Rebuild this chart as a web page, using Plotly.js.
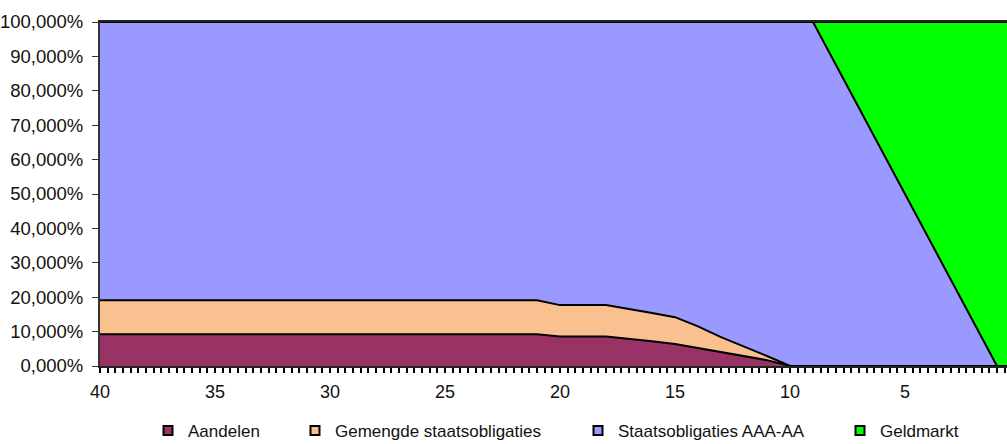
<!DOCTYPE html>
<html>
<head>
<meta charset="utf-8">
<script src="https://cdn.plot.ly/plotly-3.0.1.min.js"></script>
<style>
  html, body { margin: 0; padding: 0; background: #fff; }
  #grafiek { width: 1007px; height: 444px; }
</style>
</head>
<body>
<div id="grafiek"></div>
<script>
// Looptijd in jaren (x-as, aflopend)
const jaren = [40, 39, 38, 37, 36, 35, 34, 33, 32, 31, 30, 29, 28, 27, 26, 25, 24, 23, 22, 21,
               20, 19, 18, 17, 16, 15, 14, 13, 12, 11, 10, 9, 8, 7, 6, 5, 4, 3, 2, 1, 0.5];

// Verdeling per beleggingscategorie (%)
const aandelen = [9.2, 9.2, 9.2, 9.2, 9.2, 9.2, 9.2, 9.2, 9.2, 9.2, 9.2, 9.2, 9.2, 9.2, 9.2, 9.2, 9.2, 9.2, 9.2, 9.2,
                  8.6, 8.6, 8.6, 8.0, 7.2, 6.4, 5.1, 3.9, 2.9, 1.7, 0, 0, 0, 0, 0, 0, 0, 0, 0, 0, 0];
const gemengd = [9.9, 9.9, 9.9, 9.9, 9.9, 9.9, 9.9, 9.9, 9.9, 9.9, 9.9, 9.9, 9.9, 9.9, 9.9, 9.9, 9.9, 9.9, 9.9, 9.9,
                 9.1, 9.1, 9.1, 8.5, 8.2, 7.8, 6.4, 4.5, 2.8, 1.2, 0, 0, 0, 0, 0, 0, 0, 0, 0, 0, 0];
const staats = [80.9, 80.9, 80.9, 80.9, 80.9, 80.9, 80.9, 80.9, 80.9, 80.9, 80.9, 80.9, 80.9, 80.9, 80.9, 80.9, 80.9, 80.9, 80.9, 80.9,
                82.3, 82.3, 82.3, 83.5, 84.6, 85.8, 88.5, 91.6, 94.3, 97.1, 100, 100, 87.5, 75, 62.5, 50, 37.5, 25, 12.5, 0, 0];
const geldmarkt = [0, 0, 0, 0, 0, 0, 0, 0, 0, 0, 0, 0, 0, 0, 0, 0, 0, 0, 0, 0,
                   0, 0, 0, 0, 0, 0, 0, 0, 0, 0, 0, 0, 12.5, 25, 37.5, 50, 62.5, 75, 87.5, 100, 100];

// As-labels
const xLabels = [40, 35, 30, 25, 20, 15, 10, 5];
const yWaarden = [0, 10, 20, 30, 40, 50, 60, 70, 80, 90, 100];
const yLabels = ['0,000%', '10,000%', '20,000%', '30,000%', '40,000%', '50,000%',
                 '60,000%', '70,000%', '80,000%', '90,000%', '100,000%'];

const namen = ['Aandelen', 'Gemengde staatsobligaties', 'Staatsobligaties AAA-AA', 'Geldmarkt'];
const kleuren = ['#993366', '#FAC090', '#9999FF', '#00FF00'];
const reeksen = [aandelen, gemengd, staats, geldmarkt];

const lettertype = 'Liberation Sans, Arial, sans-serif';

// Gestapelde vlakken
const traces = reeksen.map((y, i) => ({
  x: jaren, y: y, name: namen[i], type: 'scatter', mode: 'lines',
  stackgroup: 'een', fillcolor: kleuren[i],
  line: { color: '#000', width: 2 }, showlegend: false, hoverinfo: 'skip'
}));

// Legenda-sleutels (lege punten), elk in een eigen legenda; x = begin van de tekst
const legTekstX = [188, 335, 618, 880];
const legendas = {};
namen.forEach((n, i) => {
  const id = i === 0 ? 'legend' : 'legend' + (i + 1);
  traces.push({
    x: [null], y: [null], name: n, type: 'scatter', mode: 'markers', legend: id,
    marker: { symbol: 'square', size: 9, color: kleuren[i], line: { color: '#000', width: 2 } }
  });
  legendas[id] = {
    xref: 'container', yref: 'container', x: (legTekstX[i] - 40) / 1007, y: 1 - 431 / 444,
    xanchor: 'left', yanchor: 'middle', bgcolor: 'rgba(0,0,0,0)',
    font: { family: lettertype, size: 17, color: '#111' }, itemwidth: 30
  };
});

Plotly.newPlot('grafiek', traces, Object.assign({
  width: 1007, height: 444,
  margin: { l: 100, r: 0, t: 22, b: 78, autoexpand: false },
  paper_bgcolor: '#fff', plot_bgcolor: '#fff',
  font: { family: lettertype, size: 18, color: '#111' },
  xaxis: {
    range: [40, 0.565], tickmode: 'array', tickvals: xLabels,
    ticks: 'outside', ticklen: 5, tickwidth: 2, tickcolor: '#000',
    minor: { tick0: 0, dtick: 1 / 3, ticks: 'outside', ticklen: 5, tickwidth: 2, tickcolor: '#000' },
    tickfont: { size: 18 }, ticklabelstandoff: 3,
    showline: true, linecolor: '#222', linewidth: 2, mirror: true,
    showgrid: false, zeroline: false, fixedrange: true
  },
  yaxis: {
    range: [0, 100], tickmode: 'array', tickvals: yWaarden, ticktext: yLabels,
    ticks: 'outside', ticklen: 6, tickwidth: 1, tickcolor: '#333',
    tickfont: { size: 18.5 }, ticklabelstandoff: 5,
    showline: true, linecolor: '#333', linewidth: 2,
    showgrid: false, zeroline: false, fixedrange: true
  }
}, legendas), { displayModeBar: false, staticPlot: true });
</script>
</body>
</html>
